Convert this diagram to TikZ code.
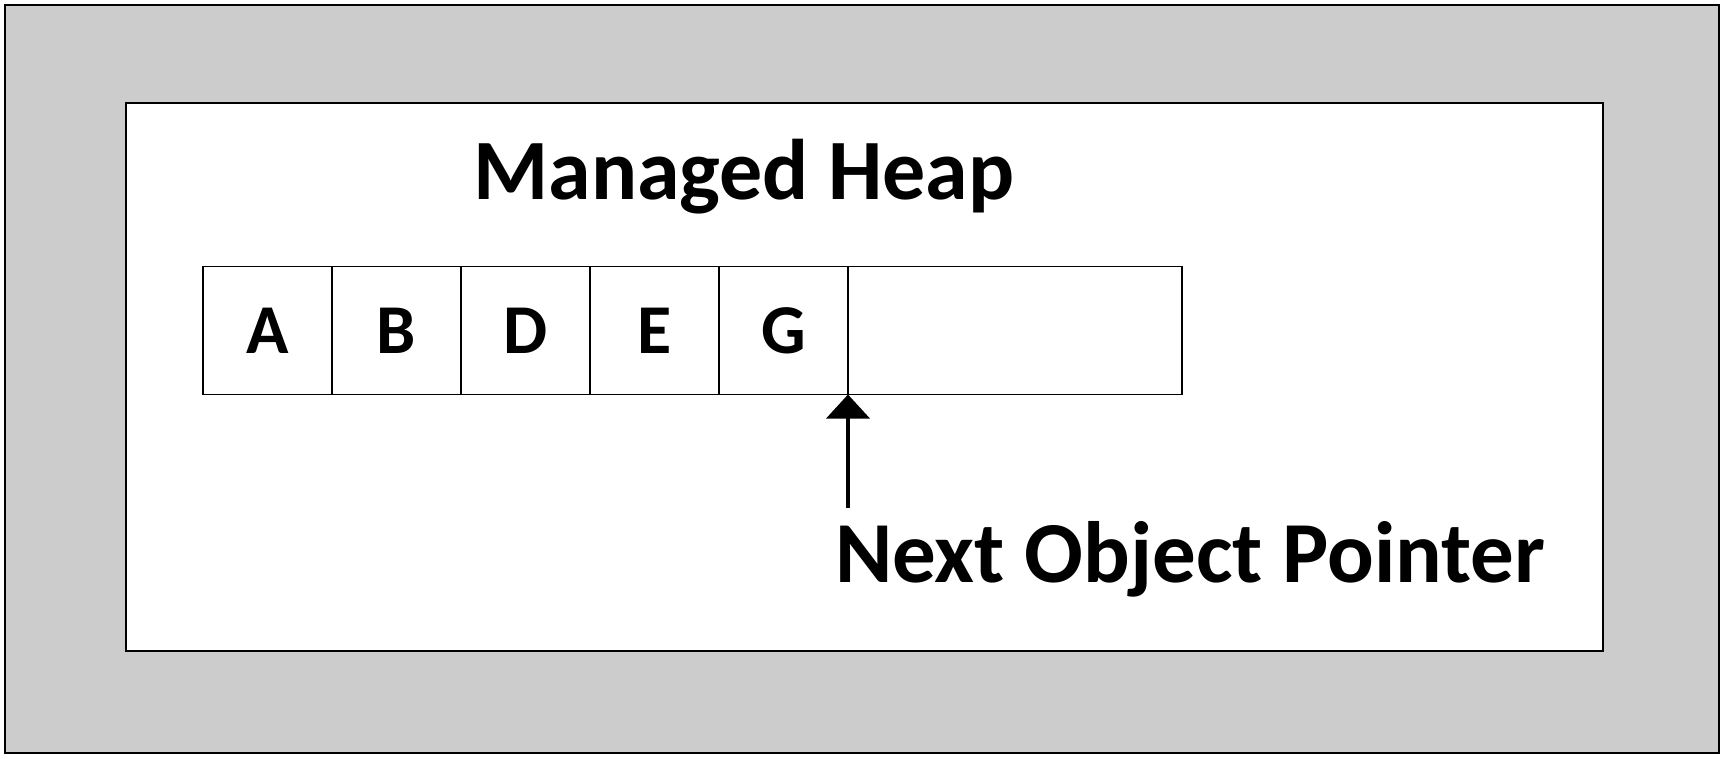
\documentclass[tikz,border=0pt]{standalone}
\usepackage{fontspec}
\setmainfont{Carlito}
\usetikzlibrary{chains,positioning,arrows.meta}
\tikzset{>=Triangle}
\colorlet{framegray}{black!20}
\tikzstyle{cell}=[draw,line width=1.5pt,minimum width=129pt,minimum height=128pt,inner sep=0pt,outer sep=0pt,font=\fontsize{70}{70}\selectfont\bfseries]

\begin{document}
\begin{tikzpicture}[x=1pt,y=-1pt,
      % define styles
      title/.style={
           inner sep=0pt,
           font=\fontsize{86}{86}\selectfont\bfseries
      },
      pointer/.style={
           line width=4pt,
           -{Triangle[width=43pt,length=24pt]}
      }
  ]
  \useasboundingbox (0,0) rectangle (1725,759);
  % frame
  \draw[fill=framegray,line width=2pt] (5,5) rectangle (1719,753);
  \draw[fill=white,line width=2pt] (126,103) rectangle (1603,651);
  % heap title
  \node[title,anchor=base] (heap) at (744,200) {Managed Heap};
  % chain of objects on the heap
  \begin{scope}[start chain=heap going right,node distance=0pt]
      \node[on chain,cell] at (267.5,330.5) (a) {A};
      \node[on chain,cell] (b) {B};
      \node[on chain,cell] (d) {D};
      \node[on chain,cell] (e) {E};
      \node[on chain,cell] (g) {G};
      \node[on chain,cell,minimum width=334pt] (free) {};
  \end{scope}
  % next object pointer
  \node[title,font=\fontsize{87}{87}\selectfont\bfseries,anchor=base west] (nop) at (835,582) {Next Object Pointer};
  \coordinate (tail) at (g.south east |- 0,508);
  \draw[pointer] (tail) -- (g.south east);
\end{tikzpicture}
\end{document}
